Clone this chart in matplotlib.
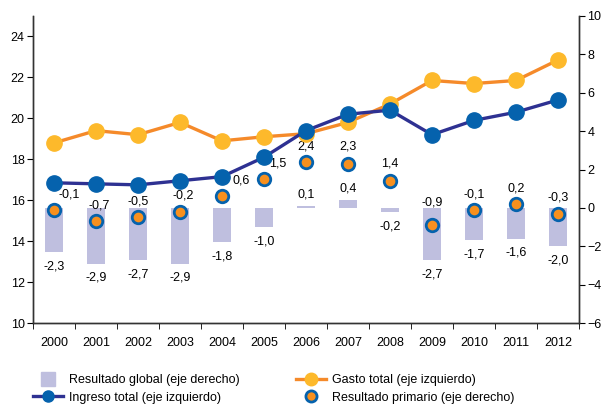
import matplotlib
matplotlib.use("Agg")
import matplotlib.pyplot as plt
from matplotlib.lines import Line2D
import numpy as np

plt.rcParams["font.family"] = ["Liberation Sans", "DejaVu Sans"]
plt.rcParams["font.size"] = 9

years = ["2000", "2001", "2002", "2003", "2004", "2005", "2006",
         "2007", "2008", "2009", "2010", "2011", "2012"]
gasto_total = [18.8, 19.4, 19.2, 19.8, 18.9, 19.1, 19.25,
               19.8, 20.7, 21.85, 21.7, 21.85, 22.85]
ingreso_total = [16.85, 16.8, 16.75, 16.95, 17.15, 18.1, 19.4,
                 20.2, 20.4, 19.2, 19.9, 20.3, 20.9]
resultado_global = [-2.3, -2.9, -2.7, -2.9, -1.8, -1.0, 0.1,
                    0.4, -0.2, -2.7, -1.7, -1.6, -2.0]
resultado_primario = [-0.1, -0.7, -0.5, -0.2, 0.6, 1.5, 2.4,
                      2.3, 1.4, -0.9, -0.1, 0.2, -0.3]

c_bar = "#bfbfdf"
c_orange = "#f58a2a"
c_yellow = "#fdb92b"
c_navy = "#2e3192"
c_blue = "#0562ad"
c_prim = "#f7901e"

fig = plt.figure(figsize=(6.01, 4.09), dpi=100)
ax = fig.add_axes([33 / 601, 86 / 409, 546 / 601, 307 / 409])
ax2 = ax.twinx()

x = np.arange(len(years))

# bars + primary result on right axis
ax2.bar(x, resultado_global, width=0.42, color=c_bar, zorder=1)
ax2.plot(x, resultado_primario, linestyle="none", marker="o", markersize=9,
         markerfacecolor=c_prim, markeredgecolor=c_blue, markeredgewidth=2,
         zorder=5)

# lines on left axis
ax.plot(x, gasto_total, color=c_orange, linewidth=2.4, marker="o", markersize=11,
        markerfacecolor=c_yellow, markeredgecolor=c_yellow, zorder=3)
ax.plot(x, ingreso_total, color=c_navy, linewidth=2.4, marker="o", markersize=11,
        markerfacecolor=c_blue, markeredgecolor=c_blue, zorder=4)

ax.set_zorder(ax2.get_zorder() + 1)
ax.patch.set_visible(False)

ax.set_ylim(10, 25)
ax.set_yticks(range(10, 25, 2))
ax2.set_ylim(-6, 10)
ax2.set_yticks(range(-6, 11, 2))
ax.set_xlim(-0.5, len(years) - 0.5)
ax.set_xticks(x)
ax.set_xticklabels(years)
ax.set_xticks(np.arange(-0.5, len(years), 1), minor=True)
ax.tick_params(axis="x", which="major", length=0, pad=10)
ax.tick_params(axis="x", which="minor", length=4, direction="out")
ax.tick_params(axis="y", length=4, direction="out", pad=2)
ax2.tick_params(axis="y", length=4, direction="out", pad=2)

for a in (ax, ax2):
    a.spines["top"].set_visible(False)
    for s in a.spines.values():
        s.set_color("#333333")
        s.set_linewidth(1)

# bar labels
for xi, v in zip(x, resultado_global):
    txt = f"{v:.1f}".replace(".", ",")
    if v >= 0:
        ax2.annotate(txt, (xi, v), xytext=(0, 4), textcoords="offset points",
                     ha="center", va="bottom")
    else:
        ax2.annotate(txt, (xi, v), xytext=(0, -6), textcoords="offset points",
                     ha="center", va="top")

# primary result labels
prim_dx = [11, 2, 0, 2, 14, 10, 0, 0, 0, 0, 0, 0, 0]
prim_dy = [7, 7, 7, 7, 7, 7, 7, 8, 8, 12, 7, 7, 7]
for xi, v, dx, dy in zip(x, resultado_primario, prim_dx, prim_dy):
    ax2.annotate(f"{v:.1f}".replace(".", ","), (xi, v), xytext=(dx, dy),
                 textcoords="offset points", ha="center", va="bottom", zorder=6)

handles = [
    Line2D([], [], linestyle="none", marker="s", markersize=10,
           markerfacecolor=c_bar, markeredgecolor=c_bar),
    Line2D([], [], color=c_navy, linewidth=2.4, marker="o", markersize=8,
           markerfacecolor=c_blue, markeredgecolor=c_blue),
    Line2D([], [], color=c_orange, linewidth=2.4, marker="o", markersize=9,
           markerfacecolor=c_yellow, markeredgecolor=c_yellow),
    Line2D([], [], linestyle="none", marker="o", markersize=8,
           markerfacecolor=c_prim, markeredgecolor=c_blue, markeredgewidth=2),
]
labels = ["Resultado global (eje derecho)", "Ingreso total (eje izquierdo)",
          "Gasto total (eje izquierdo)", "Resultado primario (eje derecho)"]
fig.legend(handles, labels, loc="upper left",
           bbox_to_anchor=(33 / 601, 1 - 374 / 409),
           ncol=2, frameon=False, borderpad=0, borderaxespad=0,
           columnspacing=4.5, handlelength=2.4, handletextpad=0.5,
           labelspacing=0.45)

fig.savefig("out.png", dpi=100)
